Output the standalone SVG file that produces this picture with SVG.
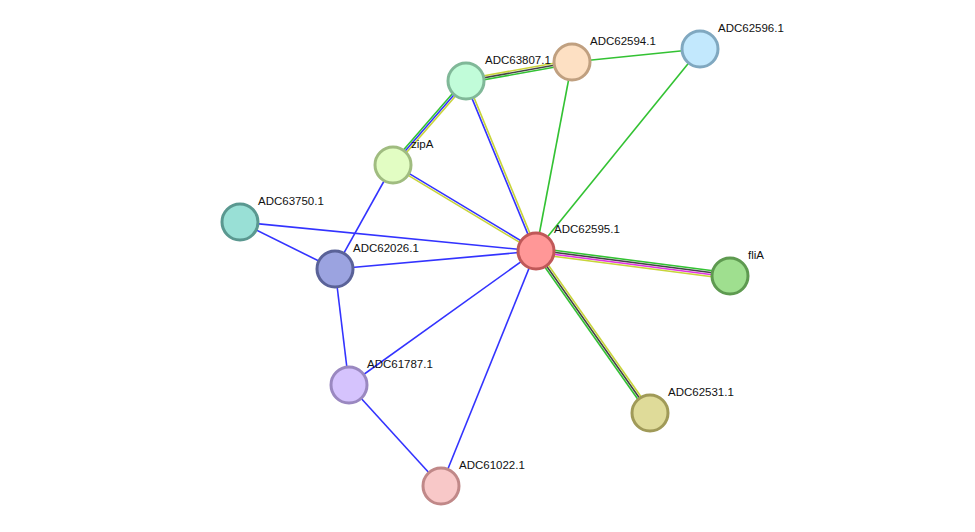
<svg xmlns="http://www.w3.org/2000/svg" width="975" height="532" viewBox="0 0 975 532">
<style>
line{stroke-width:1.6}
.b{stroke:#3333ff}.g{stroke:#33c233}.y{stroke:#c8d43a}.k{stroke:#444}.m{stroke:#e033e0}
circle{stroke-width:3}
text{font-family:"Liberation Sans",Arial,sans-serif;font-size:11.5px;fill:#111}
</style>
<rect width="975" height="532" fill="#fff"/>
<g id="connectors">
<line class="y" x1="466" y1="79" x2="572" y2="60"/>
<line class="k" x1="466" y1="81" x2="572" y2="62"/>
<line class="g" x1="466" y1="83" x2="572" y2="64"/>
<line class="g" x1="572" y1="62" x2="700" y2="49"/>
<line class="g" x1="572" y1="62" x2="536" y2="251"/>
<line class="g" x1="700" y1="49" x2="536" y2="251"/>
<line class="g" x1="464.5" y1="79.7" x2="391.5" y2="163.7"/>
<line class="b" x1="466" y1="81" x2="393" y2="165"/>
<line class="y" x1="467.5" y1="82.3" x2="394.5" y2="166.3"/>
<line class="b" x1="465" y1="81.4" x2="535" y2="251.4"/>
<line class="y" x1="467" y1="80.6" x2="537" y2="250.6"/>
<line class="b" x1="393.5" y1="164.1" x2="536.5" y2="250.1"/>
<line class="y" x1="392.5" y1="165.9" x2="535.5" y2="251.9"/>
<line class="b" x1="393" y1="165" x2="335" y2="269"/>
<line class="b" x1="240" y1="222" x2="335" y2="269"/>
<line class="b" x1="240" y1="222" x2="536" y2="251"/>
<line class="b" x1="335" y1="269" x2="536" y2="251"/>
<line class="b" x1="335" y1="269" x2="349" y2="385"/>
<line class="b" x1="536" y1="251" x2="349" y2="385"/>
<line class="b" x1="536" y1="251" x2="441" y2="486"/>
<line class="b" x1="349" y1="385" x2="441" y2="486"/>
<line class="g" x1="536.4" y1="248" x2="730.4" y2="273"/>
<line class="k" x1="536.1" y1="250" x2="730.1" y2="275"/>
<line class="m" x1="535.9" y1="252" x2="729.9" y2="277"/>
<line class="y" x1="535.6" y1="254" x2="729.6" y2="279"/>
<line class="g" x1="534.4" y1="252.2" x2="648.4" y2="414.2"/>
<line class="k" x1="536" y1="251" x2="650" y2="413"/>
<line class="y" x1="537.6" y1="249.8" x2="651.6" y2="411.8"/>
</g>
<g id="n63807"><circle cx="466" cy="81" r="18" fill="#c1fcd9" stroke="#80b898"/><text x="485" y="64">ADC63807.1</text></g>
<g id="n62594"><circle cx="572" cy="62" r="18" fill="#fde0c3" stroke="#c0a080"/><text x="590" y="45">ADC62594.1</text></g>
<g id="n62596"><circle cx="700" cy="49" r="18" fill="#c2e8fd" stroke="#80a8c0"/><text x="718" y="32">ADC62596.1</text></g>
<g id="nzipA"><circle cx="393" cy="165" r="18" fill="#e2fdc3" stroke="#a0bc80"/><text x="411" y="148">zipA</text></g>
<g id="n63750"><circle cx="240" cy="222" r="18" fill="#99e0d6" stroke="#5a9890"/><text x="258" y="205">ADC63750.1</text></g>
<g id="n62026"><circle cx="335" cy="269" r="18" fill="#9ba3e0" stroke="#5a6298"/><text x="353" y="252">ADC62026.1</text></g>
<g id="n62595"><circle cx="536" cy="251" r="18" fill="#ff9797" stroke="#c05858"/><text x="554" y="233">ADC62595.1</text></g>
<g id="nfliA"><circle cx="730" cy="276" r="18" fill="#9fdf8f" stroke="#5e9a50"/><text x="748" y="259">fliA</text></g>
<g id="n61787"><circle cx="349" cy="385" r="18" fill="#d5c3fd" stroke="#9a88c0"/><text x="367" y="368">ADC61787.1</text></g>
<g id="n62531"><circle cx="650" cy="413" r="18" fill="#dfdb99" stroke="#a09a58"/><text x="668" y="396">ADC62531.1</text></g>
<g id="n61022"><circle cx="441" cy="486" r="18" fill="#f8c8c8" stroke="#c08888"/><text x="459" y="469">ADC61022.1</text></g>
</svg>
